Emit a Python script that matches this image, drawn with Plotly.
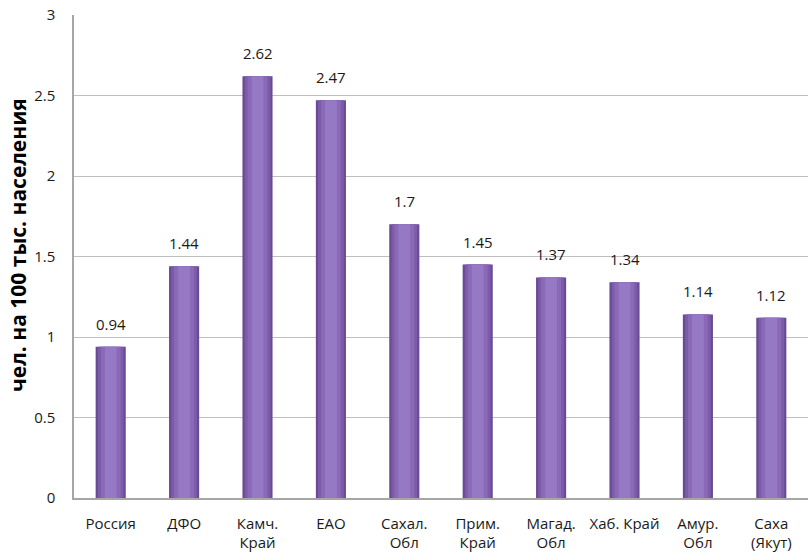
import plotly.graph_objects as go

categories = ["Россия", "ДФО", "Камч.<br>Край", "ЕАО", "Сахал.<br>Обл", "Прим.<br>Край",
              "Магад.<br>Обл", "Хаб. Край", "Амур.<br>Обл", "Саха<br>(Якут)"]
values = [0.94, 1.44, 2.62, 2.47, 1.7, 1.45, 1.37, 1.34, 1.14, 1.12]
labels = ["0.94", "1.44", "2.62", "2.47", "1.7", "1.45", "1.37", "1.34", "1.14", "1.12"]
y_ticks = [0, 0.5, 1, 1.5, 2, 2.5, 3]

FONT = "Open Sans, Liberation Sans, sans-serif"

fig = go.Figure()
# layered bars to imitate a cylinder-like gradient
layers = [(0.41, "#6a4a94"), (0.35, "#7c5ca9"), (0.27, "#8a6ab8"), (0.16, "#9679c4")]
for w, c in layers:
    fig.add_trace(go.Bar(
        x=categories, y=values, width=w, marker=dict(color=c, line=dict(width=0)),
        showlegend=False, hoverinfo="skip",
    ))

for cat, val, lab in zip(categories, values, labels):
    fig.add_annotation(
        x=cat, y=val, text=lab, showarrow=False, yanchor="bottom", yshift=11,
        font=dict(family=FONT, size=15, color="#1a1a1a"),
    )

fig.add_annotation(
    xref="paper", yref="paper", x=-0.0763, y=0.524, xanchor="center", yanchor="middle",
    text="<b>чел. на 100 тыс. населения</b>", textangle=-90, showarrow=False,
    font=dict(family=FONT, size=21, color="#000000"),
)

fig.update_layout(
    width=808, height=553,
    margin=dict(l=74, r=0, t=15, b=55),
    barmode="overlay",
    plot_bgcolor="white", paper_bgcolor="white",
    font=dict(family=FONT, size=15, color="#1a1a1a"),
)
fig.update_xaxes(
    showline=True, linecolor="#a6a6a6", linewidth=1.5, showgrid=False,
    tickfont=dict(family=FONT, size=15, color="#1a1a1a"),
    ticks="", ticklabelstandoff=11,
)
fig.update_yaxes(
    range=[0, 3], tickvals=y_ticks, ticktext=[f"{v:g}" for v in y_ticks],
    showline=True, linecolor="#a6a6a6", linewidth=1.5,
    showgrid=True, gridcolor="#bfbfbf", gridwidth=1, zeroline=False,
    tickfont=dict(family=FONT, size=15, color="#1a1a1a"), ticks="",
    ticklabelstandoff=14,
)
fig.write_html("out.html")
